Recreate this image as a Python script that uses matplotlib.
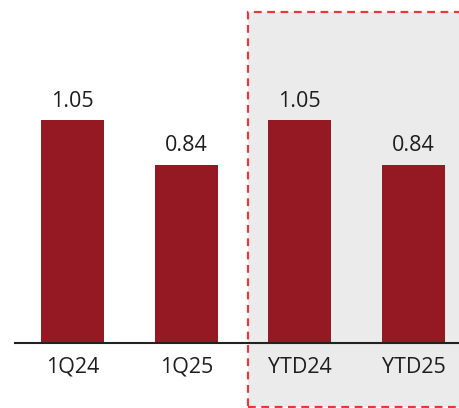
import matplotlib
matplotlib.use("Agg")
import matplotlib.pyplot as plt
from matplotlib.patches import Rectangle

# Data
categories = ["1Q24", "1Q25", "YTD24", "YTD25"]
values = [1.05, 0.84, 1.05, 0.84]
labels = ["1.05", "0.84", "1.05", "0.84"]

plt.rcParams['font.family'] = ['Open Sans', 'DejaVu Sans']

fig = plt.figure(figsize=(4.6, 4.08), dpi=100)
ax = fig.add_axes([15 / 460, 65 / 408, 445 / 460, 343 / 408])
ax.set_facecolor('none')
ax.set_zorder(1)

# Shaded YTD area with dashed red border
box = Rectangle((248 / 460, 1.5 / 408), 0.6, 394.5 / 408, transform=fig.transFigure,
                facecolor='#ebebeb', edgecolor='#e8383d', linestyle=(0, (3.5, 2.5)),
                linewidth=1.6, zorder=-1)
fig.patches.append(box)

x = range(len(categories))
bars = ax.bar(x, values, width=0.555, color='#951922')

for xi, v, lab in zip(x, values, labels):
    ax.text(xi, v + 0.04, lab, ha='center', va='bottom', fontsize=15.5,
            color='#1e1e1e')

ax.set_xlim(-0.506, 3.409)
ax.set_ylim(0, 1.616)
ax.set_xticks(list(x))
ax.set_xticklabels(categories, fontsize=15.5, color='#1e1e1e')
ax.tick_params(axis='x', length=0, pad=10)
ax.set_yticks([])
for s in ['top', 'right', 'left']:
    ax.spines[s].set_visible(False)
ax.spines['bottom'].set_linewidth(1.5)
ax.spines['bottom'].set_color('#222222')

fig.savefig('out.png', dpi=100)
